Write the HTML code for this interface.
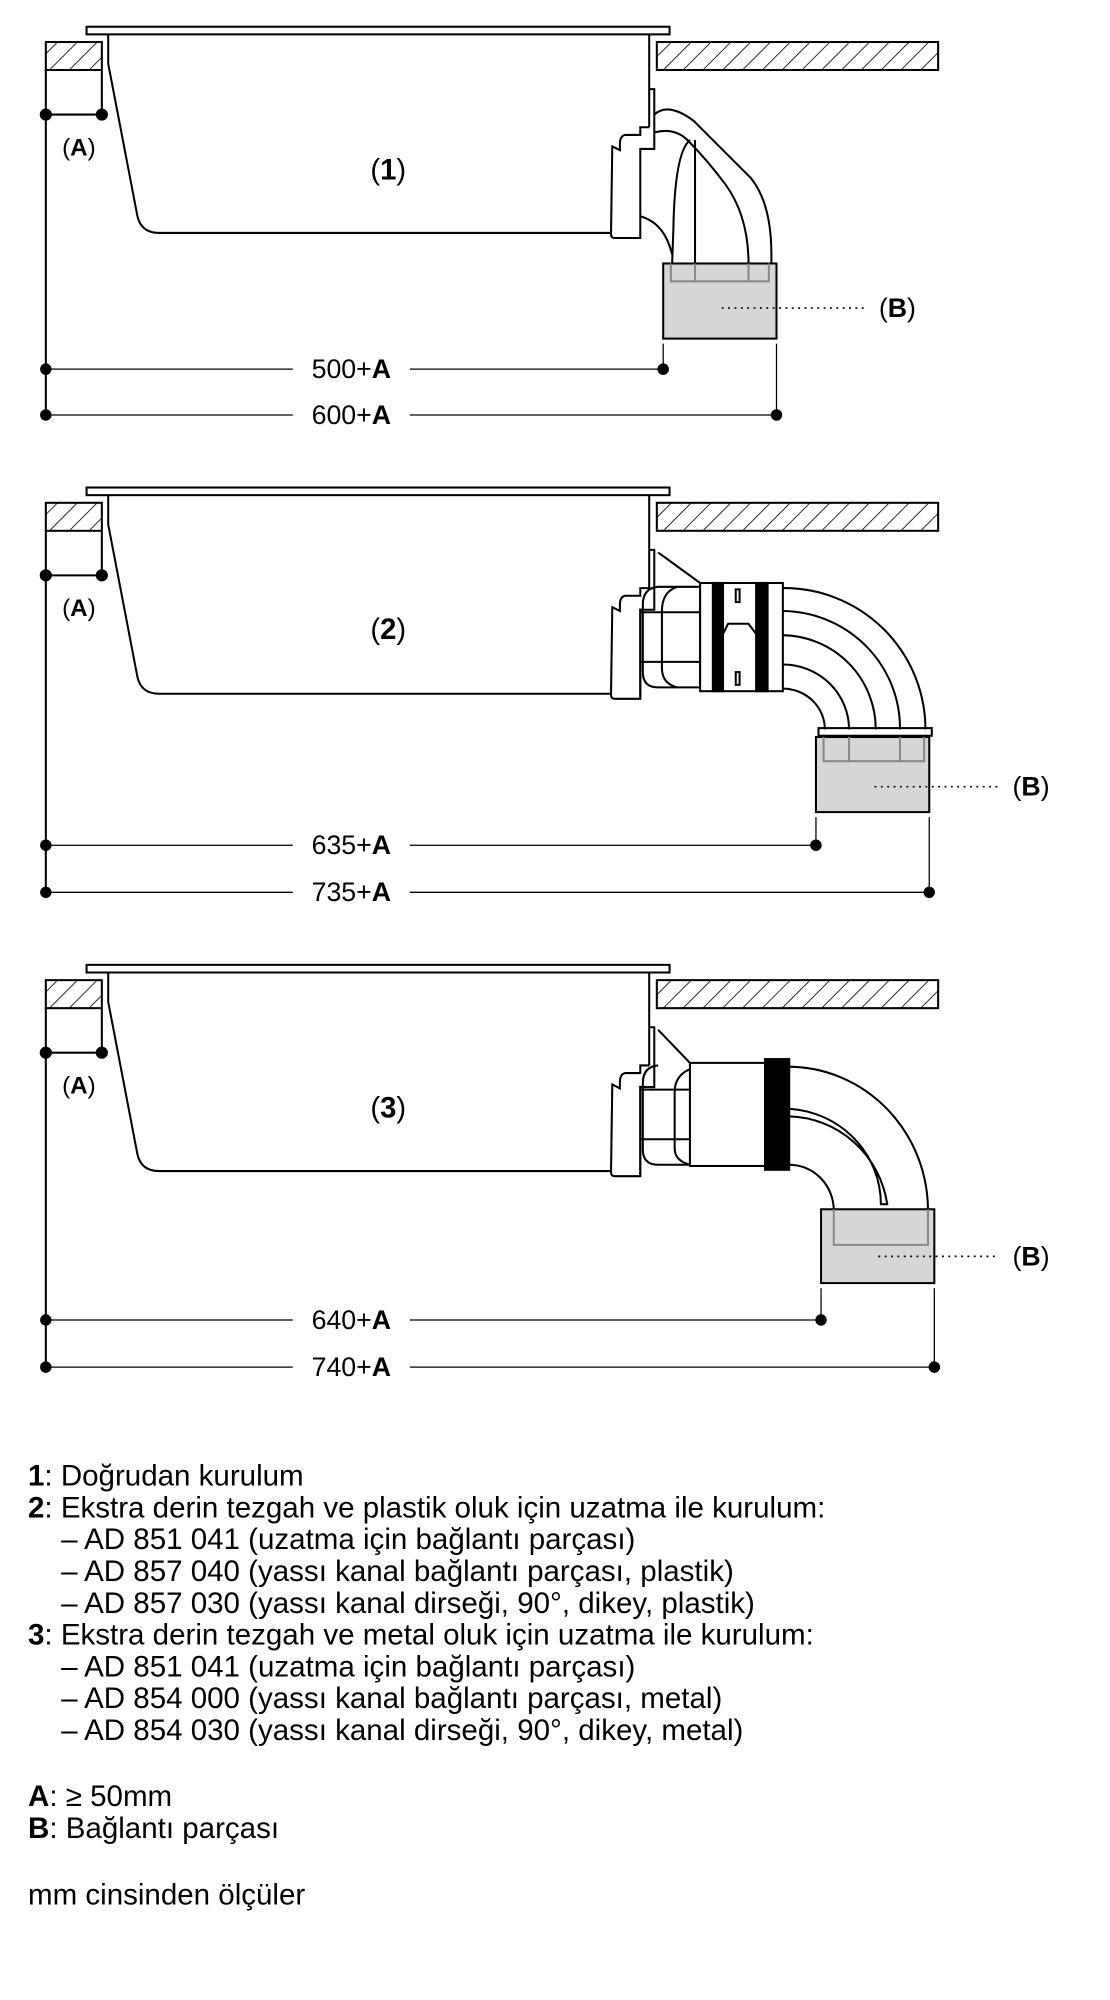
<!DOCTYPE html>
<html><head><meta charset="utf-8"><style>
html,body{margin:0;padding:0;background:#fff}
svg{display:block}
text{font-family:"Liberation Sans",sans-serif;fill:#000}
</style></head><body>
<svg width="1110" height="2000" viewBox="0 0 872 1571.2" preserveAspectRatio="none" xmlns="http://www.w3.org/2000/svg">
<defs>
<pattern id="h" patternUnits="userSpaceOnUse" width="11" height="11" patternTransform="rotate(45)">
<line x1="0" y1="0" x2="0" y2="11" stroke="#000" stroke-width="1.3"/>
</pattern>
<g id="hob" fill="none" stroke="#000" stroke-width="1.6">
<rect x="68" y="21" width="458" height="6" fill="#fff"/>
<rect x="36" y="33" width="44" height="22" fill="url(#h)"/>
<rect x="516" y="33" width="221" height="22" fill="url(#h)"/>
<path d="M85,27 L85,50 L108,170 Q111,183 125,183 L480,183"/>
<path d="M510,27 L510,100"/>
<path d="M510,100 L503,100 L503,106 L491,106 Q487,107 487,113 L487,118 L481,115 L480,184 Q480,187 483,187 L503,187 L503,117 L514,117 L514,70 L510,70"/>
<line x1="36" y1="55" x2="36" y2="90"/>
<line x1="80" y1="55" x2="80" y2="90"/>
<line x1="36" y1="90" x2="80" y2="90"/>
<circle cx="36" cy="90" r="4" fill="#000"/>
<circle cx="80" cy="90" r="4" fill="#000"/>
</g>
</defs>

<!-- Diagram 1 -->
<use href="#hob"/>
<g fill="none" stroke="#000" stroke-width="1.6">
<path d="M514,90 Q525,80 545,95 L590,140 Q606,160 606,200 L606,207"/>
<path d="M514,104 Q530,100 540,110 Q555,125 570,145 Q588,170 588,207"/>
<line x1="546" y1="110" x2="546" y2="207"/>
<path d="M542,110 Q530,120 529,180 L528,207"/>
<path d="M503,170 Q522,175 528,200"/>
<rect x="521" y="207" width="89" height="59" fill="#d6d6d6"/>
<path d="M527,207 L527,221 L604,221 L604,207 M546,207 L546,221 M588,207 L588,221" stroke="#888"/>
<line x1="36" y1="90" x2="36" y2="326"/>
<line x1="521" y1="270" x2="521" y2="290" stroke-width="1"/>
<line x1="610" y1="270" x2="610" y2="326" stroke-width="1"/>
<line x1="36" y1="290" x2="230" y2="290" stroke-width="1"/><line x1="322" y1="290" x2="521" y2="290" stroke-width="1"/>
<line x1="36" y1="326" x2="230" y2="326" stroke-width="1"/><line x1="322" y1="326" x2="610" y2="326" stroke-width="1"/>
<line x1="567" y1="242" x2="680" y2="242" stroke-width="1.3" stroke-dasharray="1.5,3.5"/>
</g>
<g fill="#000"><circle cx="36" cy="290" r="4.5"/><circle cx="521" cy="290" r="4.5"/><circle cx="36" cy="326" r="4.5"/><circle cx="610" cy="326" r="4.5"/></g>
<text x="62" y="122" font-size="19" text-anchor="middle">(<tspan font-weight="bold">A</tspan>)</text>
<text x="305" y="141" font-size="23" text-anchor="middle">(<tspan font-weight="bold">1</tspan>)</text>
<text x="705" y="249" font-size="21" text-anchor="middle">(<tspan font-weight="bold">B</tspan>)</text>
<text x="276" y="297" font-size="21" text-anchor="middle">500+<tspan font-weight="bold">A</tspan></text>
<text x="276" y="333" font-size="21" text-anchor="middle">600+<tspan font-weight="bold">A</tspan></text>

<!-- Diagram 2 -->
<g transform="translate(0,362)"><use href="#hob"/></g>
<g fill="none" stroke="#000" stroke-width="1.6">
<line x1="517" y1="434" x2="550" y2="458"/>
<path d="M503,478 L503,548 M517,461 Q505,462 505,475 L505,528 Q505,540 517,540 L550,540 L550,461 Z"/>
<path d="M532,461 Q520,465 520,480 L520,525 Q520,537 532,540"/>
<line x1="503" y1="481" x2="550" y2="481"/><line x1="503" y1="520" x2="550" y2="520"/>
<rect x="550" y="458" width="65" height="85" fill="#fff"/>
<rect x="560" y="458" width="8" height="85" fill="#000"/>
<rect x="594" y="458" width="9" height="85" fill="#000"/>
<path d="M568,498 L572,490 L588,490 L594,498" />
<rect x="578" y="463" width="3" height="10"/><rect x="578" y="528" width="3" height="10"/>
<path d="M615,462 A111,111 0 0 1 727,573"/>
<path d="M615,480 A93,92 0 0 1 707,573"/>
<path d="M615,499 A74,74 0 0 1 688,573"/>
<path d="M615,522 A52,51 0 0 1 667,573"/>
<path d="M615,541 A33,32 0 0 1 648,573"/>
<rect x="643" y="572" width="89" height="6"/>
<rect x="641" y="579" width="89" height="59" fill="#d6d6d6"/>
<path d="M647,579 L647,598 L726,598 L726,579 M667,579 L667,598 M707,579 L707,598" stroke="#888"/>
<line x1="36" y1="452" x2="36" y2="701"/>
<line x1="641" y1="642" x2="641" y2="664" stroke-width="1"/>
<line x1="730" y1="642" x2="730" y2="701" stroke-width="1"/>
<line x1="36" y1="664" x2="230" y2="664" stroke-width="1"/><line x1="322" y1="664" x2="641" y2="664" stroke-width="1"/>
<line x1="36" y1="701" x2="230" y2="701" stroke-width="1"/><line x1="322" y1="701" x2="730" y2="701" stroke-width="1"/>
<line x1="687" y1="618" x2="785" y2="618" stroke-width="1.3" stroke-dasharray="1.5,3.5"/>
</g>
<g fill="#000"><circle cx="36" cy="664" r="4.5"/><circle cx="641" cy="664" r="4.5"/><circle cx="36" cy="701" r="4.5"/><circle cx="730" cy="701" r="4.5"/></g>
<text x="62" y="484" font-size="19" text-anchor="middle">(<tspan font-weight="bold">A</tspan>)</text>
<text x="305" y="502" font-size="23" text-anchor="middle">(<tspan font-weight="bold">2</tspan>)</text>
<text x="810" y="625" font-size="21" text-anchor="middle">(<tspan font-weight="bold">B</tspan>)</text>
<text x="276" y="671" font-size="21" text-anchor="middle">635+<tspan font-weight="bold">A</tspan></text>
<text x="276" y="708" font-size="21" text-anchor="middle">735+<tspan font-weight="bold">A</tspan></text>

<!-- Diagram 3 -->
<g transform="translate(0,737)"><use href="#hob"/></g>
<g fill="none" stroke="#000" stroke-width="1.6">
<line x1="517" y1="809" x2="542" y2="835"/>
<path d="M503,853 L503,923 M517,837 Q505,838 505,851 L505,903 Q505,915 517,915 L542,915"/>
<path d="M542,840 Q530,845 530,858 L530,902 Q530,912 542,915"/>
<line x1="503" y1="856" x2="542" y2="856"/><line x1="503" y1="895" x2="542" y2="895"/>
<rect x="542" y="835" width="59" height="81" fill="#fff"/>
<rect x="601" y="832" width="19" height="87" fill="#000"/>
<path d="M620,838 A110,113 0 0 1 729,951"/>
<path d="M620,915 A35,36 0 0 1 655,951"/>
<path d="M620,871 A77,75 0 0 1 692,946 L697,946 A80,81 0 0 0 620,877"/>
<rect x="645" y="950" width="89" height="58" fill="#d6d6d6"/>
<path d="M655,950 L655,978 L729,978 L729,950" stroke="#888"/>
<line x1="36" y1="827" x2="36" y2="1074"/>
<line x1="645" y1="1012" x2="645" y2="1037" stroke-width="1"/>
<line x1="734" y1="1012" x2="734" y2="1074" stroke-width="1"/>
<line x1="36" y1="1037" x2="230" y2="1037" stroke-width="1"/><line x1="322" y1="1037" x2="645" y2="1037" stroke-width="1"/>
<line x1="36" y1="1074" x2="230" y2="1074" stroke-width="1"/><line x1="322" y1="1074" x2="734" y2="1074" stroke-width="1"/>
<line x1="690" y1="987" x2="785" y2="987" stroke-width="1.3" stroke-dasharray="1.5,3.5"/>
</g>
<g fill="#000"><circle cx="36" cy="1037" r="4.5"/><circle cx="645" cy="1037" r="4.5"/><circle cx="36" cy="1074" r="4.5"/><circle cx="734" cy="1074" r="4.5"/></g>
<text x="62" y="859" font-size="19" text-anchor="middle">(<tspan font-weight="bold">A</tspan>)</text>
<text x="305" y="878" font-size="23" text-anchor="middle">(<tspan font-weight="bold">3</tspan>)</text>
<text x="810" y="994" font-size="21" text-anchor="middle">(<tspan font-weight="bold">B</tspan>)</text>
<text x="276" y="1044" font-size="21" text-anchor="middle">640+<tspan font-weight="bold">A</tspan></text>
<text x="276" y="1081" font-size="21" text-anchor="middle">740+<tspan font-weight="bold">A</tspan></text>

<!-- Legend -->
<g font-size="23.2">
<text x="22" y="1167"><tspan font-weight="bold">1</tspan>:  Doğrudan kurulum</text>
<text x="22" y="1192"><tspan font-weight="bold">2</tspan>:  Ekstra derin tezgah ve plastik oluk için uzatma ile kurulum:</text>
<text x="48" y="1217">– AD 851 041 (uzatma için bağlantı parçası)</text>
<text x="48" y="1242">– AD 857 040 (yassı kanal bağlantı parçası, plastik)</text>
<text x="48" y="1267">– AD 857 030 (yassı kanal dirseği, 90°, dikey, plastik)</text>
<text x="22" y="1292"><tspan font-weight="bold">3</tspan>:  Ekstra derin tezgah ve metal oluk için uzatma ile kurulum:</text>
<text x="48" y="1317">– AD 851 041 (uzatma için bağlantı parçası)</text>
<text x="48" y="1342">– AD 854 000 (yassı kanal bağlantı parçası, metal)</text>
<text x="48" y="1367">– AD 854 030 (yassı kanal dirseği, 90°, dikey, metal)</text>
<text x="22" y="1419"><tspan font-weight="bold">A</tspan>: ≥ 50mm</text>
<text x="22" y="1444"><tspan font-weight="bold">B</tspan>: Bağlantı parçası</text>
<text x="22" y="1496">mm cinsinden ölçüler</text>
</g>
</svg>
</body></html>
